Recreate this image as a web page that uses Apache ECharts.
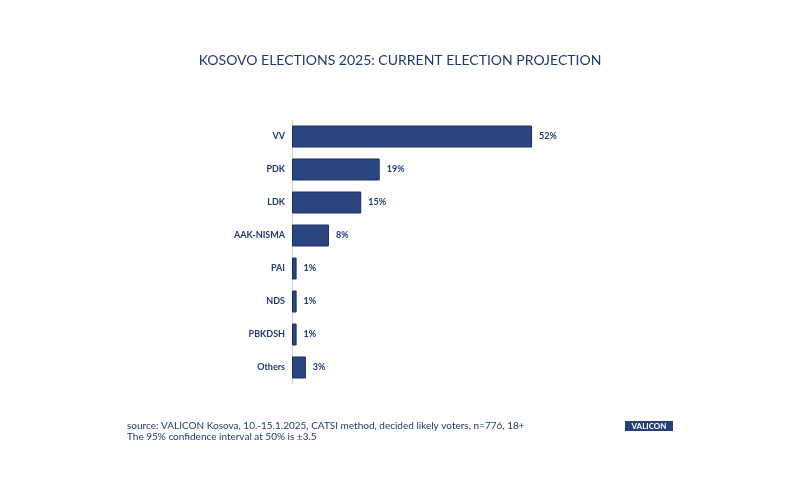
<!DOCTYPE html>
<html>
<head>
<meta charset="utf-8">
<script src="https://cdn.jsdelivr.net/npm/echarts@6/dist/echarts.min.js"></script>
<style>
html,body{margin:0;padding:0;background:#fff;}
#chart{width:800px;height:488px;}
</style>
</head>
<body>
<div id="chart"></div>
<script>
var parties=['VV','PDK','LDK','AAK-NISMA','PAI','NDS','PBKDSH','Others'];
var shares=[52,19,15,8,1,1,1,3];
var titleText='KOSOVO ELECTIONS 2025: CURRENT ELECTION PROJECTION';
var sourceLines=['source: VALICON Kosova, 10.-15.1.2025, CATSI method, decided likely voters, n=776, 18+','The 95% confidence interval at 50% is \u00b13.5'];

var navy='#1f3a73';
var font='Lato, "Open Sans", sans-serif';

var myChart=echarts.init(document.getElementById('chart'));
var option={
    backgroundColor:'#fff',
    animation:false,
    title:{
        text:titleText,
        left:'center',
        top:48,
        textStyle:{color:navy,fontFamily:font,fontSize:14,fontWeight:'normal'}
    },
    grid:{left:292,top:120,width:277,height:264,containLabel:false},
    xAxis:{
        type:'value',min:0,max:60,show:false
    },
    yAxis:{
        type:'category',
        data:parties,
        inverse:true,
        axisLine:{show:true,lineStyle:{color:'#d0d0d0',width:1}},
        axisTick:{show:false},
        axisLabel:{color:navy,fontFamily:font,fontSize:9,fontWeight:'bold',margin:7}
    },
    series:[{
        type:'bar',
        data:shares,
        barWidth:22,
        itemStyle:{color:'#2b4580',borderColor:'#1a2d5c',borderWidth:1},
        label:{
            show:true,position:'right',distance:7,
            formatter:'{c}%',
            color:navy,fontFamily:font,fontSize:9,fontWeight:'bold'
        }
    }],
    graphic:[
        {type:'text',left:127,top:420,style:{text:sourceLines.join('\n'),fill:navy,font:'10px '+font,lineHeight:11}},
        {type:'rect',shape:{x:625,y:421,width:48,height:10},style:{fill:'#24407a'}},
        {type:'text',x:649,y:426,style:{text:'VALICON',fill:'#fff',font:'bold 8px '+font,align:'center',verticalAlign:'middle'}}
    ]
};
myChart.setOption(option);
</script>
</body>
</html>
